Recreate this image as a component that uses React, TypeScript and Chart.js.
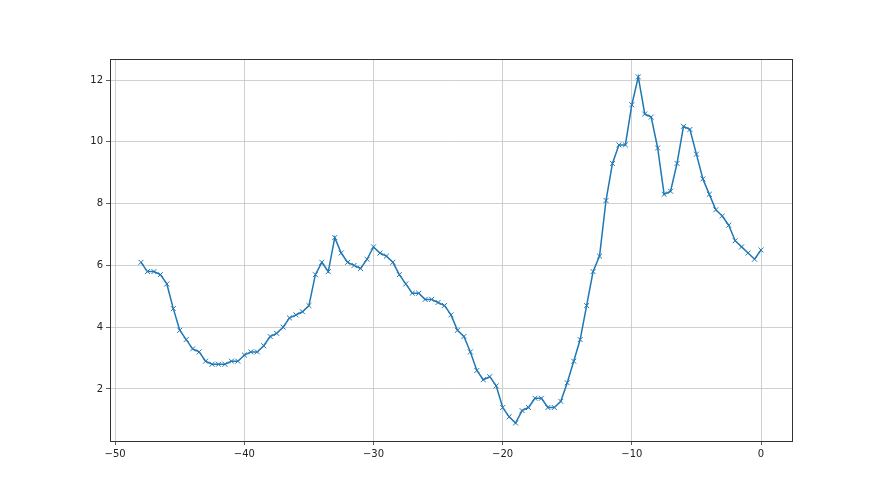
import React, { useEffect, useRef } from "react";
import { Chart, registerables } from "chart.js";

Chart.register(...registerables);

const xValues: number[] = [
  -48, -47.5, -47, -46.5, -46, -45.5, -45, -44.5, -44, -43.5,
  -43, -42.5, -42, -41.5, -41, -40.5, -40, -39.5, -39, -38.5,
  -38, -37.5, -37, -36.5, -36, -35.5, -35, -34.5, -34, -33.5,
  -33, -32.5, -32, -31.5, -31, -30.5, -30, -29.5, -29, -28.5,
  -28, -27.5, -27, -26.5, -26, -25.5, -25, -24.5, -24, -23.5,
  -23, -22.5, -22, -21.5, -21, -20.5, -20, -19.5, -19, -18.5,
  -18, -17.5, -17, -16.5, -16, -15.5, -15, -14.5, -14, -13.5,
  -13, -12.5, -12, -11.5, -11, -10.5, -10, -9.5, -9, -8.5,
  -8, -7.5, -7, -6.5, -6, -5.5, -5, -4.5, -4, -3.5,
  -3, -2.5, -2, -1.5, -1, -0.5, 0,
];

const yValues: number[] = [
  6.1, 5.8, 5.8, 5.7, 5.4, 4.6, 3.9, 3.6, 3.3, 3.2,
  2.9, 2.8, 2.8, 2.8, 2.9, 2.9, 3.1, 3.2, 3.2, 3.4,
  3.7, 3.8, 4.0, 4.3, 4.4, 4.5, 4.7, 5.7, 6.1, 5.8,
  6.9, 6.4, 6.1, 6.0, 5.9, 6.2, 6.6, 6.4, 6.3, 6.1,
  5.7, 5.4, 5.1, 5.1, 4.9, 4.9, 4.8, 4.7, 4.4, 3.9,
  3.7, 3.2, 2.6, 2.3, 2.4, 2.1, 1.4, 1.1, 0.9, 1.3,
  1.4, 1.7, 1.7, 1.4, 1.4, 1.6, 2.2, 2.9, 3.6, 4.7,
  5.8, 6.3, 8.1, 9.3, 9.9, 9.9, 11.2, 12.1, 10.9, 10.8,
  9.8, 8.3, 8.4, 9.3, 10.5, 10.4, 9.6, 8.8, 8.3, 7.8,
  7.6, 7.3, 6.8, 6.6, 6.4, 6.2, 6.5,
];

const xTicks: number[] = [-50, -40, -30, -20, -10, 0];
const yTicks: number[] = [2, 4, 6, 8, 10, 12];

const spinesPlugin = {
  id: "spines",
  afterDraw(chart: any) {
    const { ctx, chartArea } = chart;
    ctx.save();
    ctx.strokeStyle = "#333333";
    ctx.lineWidth = 1;
    ctx.strokeRect(
      Math.round(chartArea.left) + 0.5,
      Math.round(chartArea.top) + 0.5,
      Math.round(chartArea.right - chartArea.left),
      Math.round(chartArea.bottom - chartArea.top)
    );
    ctx.restore();
  },
};

export default function App() {
  const ref = useRef<HTMLCanvasElement | null>(null);

  useEffect(() => {
    document.body.style.margin = "0";
    const canvas = ref.current;
    if (!canvas) return;
    const chart = new Chart(canvas, {
      type: "line",
      data: {
        datasets: [
          {
            data: xValues.map((x, i) => ({ x, y: yValues[i] })),
            borderColor: "#1f77b4",
            backgroundColor: "#1f77b4",
            borderWidth: 1.5,
            pointStyle: "crossRot",
            pointRadius: 3.5,
            pointBorderWidth: 1,
            pointBorderColor: "#1f77b4",
            pointHoverRadius: 3.5,
            tension: 0,
            fill: false,
          },
        ],
      },
      options: {
        animation: false,
        responsive: false,
        maintainAspectRatio: false,
        layout: { padding: { top: 59, right: 88, left: 0, bottom: 0 } },
        plugins: {
          legend: { display: false },
          tooltip: { enabled: false },
          title: { display: false },
        },
        scales: {
          x: {
            type: "linear",
            min: -50.4,
            max: 2.4,
            afterBuildTicks: (scale: any) => {
              scale.ticks = xTicks.map((v) => ({ value: v }));
            },
            afterFit: (scale: any) => {
              scale.height = 54;
            },
            grid: {
              color: "#c4c4c4",
              lineWidth: 0.8,
              tickLength: 4,
              tickColor: "#333333",
              tickWidth: 0.8,
            },
            border: { display: true, color: "#333333", width: 1 },
            ticks: {
              font: { family: "DejaVu Sans", size: 10 },
              color: "#222222",
              padding: 3,
              maxRotation: 0,
              autoSkip: false,
              callback: (v: any) => (Number(v) < 0 ? "\u2212" + Math.abs(Number(v)) : String(v)),
            },
          },
          y: {
            type: "linear",
            min: 0.317,
            max: 12.68,
            afterBuildTicks: (scale: any) => {
              scale.ticks = yTicks.map((v) => ({ value: v }));
            },
            afterFit: (scale: any) => {
              scale.width = 110;
            },
            grid: {
              color: "#c4c4c4",
              lineWidth: 0.8,
              tickLength: 4,
              tickColor: "#333333",
              tickWidth: 0.8,
            },
            border: { display: true, color: "#333333", width: 1 },
            ticks: {
              font: { family: "DejaVu Sans", size: 10 },
              color: "#222222",
              padding: 3,
              autoSkip: false,
              callback: (v: any) => String(v),
            },
          },
        },
      },
      plugins: [spinesPlugin],
    });
    return () => chart.destroy();
  }, []);

  return (
    <div style={{ position: "absolute", left: 0, top: 0, width: 880, height: 495, background: "#ffffff" }}>
      <canvas ref={ref} width={880} height={495} style={{ display: "block", width: 880, height: 495 }} />
    </div>
  );
}
